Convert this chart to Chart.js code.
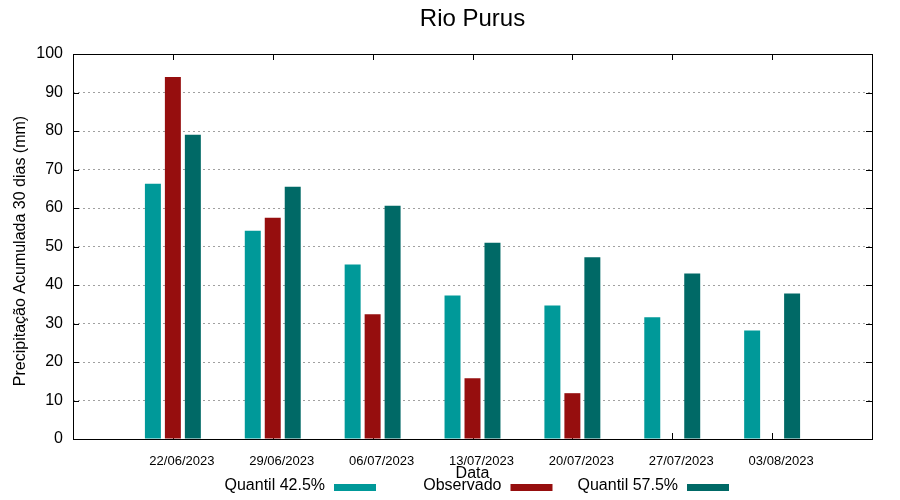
<!DOCTYPE html>
<html><head><meta charset="utf-8">
<script src="https://cdn.jsdelivr.net/npm/chart.js@4"></script>
<style>html,body{margin:0;padding:0;background:#fff}#wrap{width:900px;height:500px}</style>
</head><body><div id="wrap"><canvas id="c" width="900" height="500"></canvas></div>
<script>
const chartTitle = 'Rio Purus';
const xTitle = 'Data';
const yTitle = 'Precipitação Acumulada 30 dias (mm)';
const dates = ['22/06/2023','29/06/2023','06/07/2023','13/07/2023','20/07/2023','27/07/2023','03/08/2023'];
const q425 = [66.3, 54.1, 45.3, 37.3, 34.7, 31.6, 28.2];
const observado = [94.0, 57.5, 32.4, 15.8, 11.9, null, null];
const q575 = [79.0, 65.5, 60.6, 51.0, 47.2, 43.0, 37.8];
const yTicks = [0,10,20,30,40,50,60,70,80,90,100];
const seriesNames = ['Quantil 42.5%', 'Observado', 'Quantil 57.5%'];
const seriesColors = ['#009999', '#960e0e', '#006966'];

const FONT = "'Liberation Sans', Arial, sans-serif";
const toPts = arr => arr.map((v, i) => ({x: i + 1, y: v}));

const deco = {
  id: 'deco',
  beforeDatasetsDraw(chart) {
    const {ctx, chartArea: a, scales: {x, y}} = chart;
    ctx.save();
    ctx.strokeStyle = '#000'; ctx.lineWidth = 1;
    ctx.beginPath();
    yTicks.forEach(v => {
      const py = Math.round(y.getPixelForValue(v)) + 0.5;
      ctx.moveTo(a.left, py); ctx.lineTo(a.left + 6, py);
      ctx.moveTo(a.right, py); ctx.lineTo(a.right - 6, py);
    });
    dates.forEach((d, i) => {
      const px = Math.round(x.getPixelForValue(i + 1)) + 0.5;
      ctx.moveTo(px, a.top); ctx.lineTo(px, a.top + 6);
      ctx.moveTo(px, a.bottom); ctx.lineTo(px, a.bottom - 6);
    });
    ctx.stroke();
    ctx.restore();
  },
  afterDatasetsDraw(chart) {
    const {ctx, chartArea: a} = chart;
    ctx.save();
    ctx.strokeStyle = '#000'; ctx.lineWidth = 1;
    ctx.strokeRect(Math.round(a.left) + 0.5, Math.round(a.top) + 0.5,
      Math.round(a.right) - Math.round(a.left), Math.round(a.bottom) - Math.round(a.top));
    ctx.restore();
  },
  afterDraw(chart) {
    const {ctx, chartArea: a} = chart;
    ctx.save();
    ctx.fillStyle = '#000';
    ctx.font = '24px ' + FONT;
    ctx.textAlign = 'center'; ctx.textBaseline = 'middle';
    ctx.fillText(chartTitle, (a.left + a.right) / 2, 19);
    ctx.font = '16px ' + FONT;
    ctx.fillText(xTitle, (a.left + a.right) / 2, 474);
    ctx.save();
    ctx.translate(21, 251);
    ctx.rotate(-Math.PI / 2);
    ctx.fillText(yTitle, 0, 0);
    ctx.restore();
    ctx.textAlign = 'right';
    seriesNames.forEach((n, i) => {
      const xe = 325 + i * 176.5;
      ctx.fillStyle = '#000';
      ctx.fillText(n, xe, 486);
      ctx.fillStyle = seriesColors[i];
      ctx.fillRect(xe + 9, 484, 42, 7);
    });
    ctx.restore();
  }
};

new Chart(document.getElementById('c'), {
  type: 'bar',
  data: {
    datasets: [
      {label: seriesNames[0], data: toPts(q425), backgroundColor: seriesColors[0]},
      {label: seriesNames[1], data: toPts(observado), backgroundColor: seriesColors[1]},
      {label: seriesNames[2], data: toPts(q575), backgroundColor: seriesColors[2]}
    ]
  },
  options: {
    responsive: false,
    animation: false,
    events: [],
    barPercentage: 0.8,
    categoryPercentage: 0.6,
    layout: {padding: {top: 54, right: 28, bottom: 0, left: 0}},
    plugins: {legend: {display: false}, title: {display: false}, tooltip: {enabled: false}},
    scales: {
      x: {
        type: 'linear', min: 0, max: 8, offset: false,
        afterFit(s) { s.height = 61; },
        grid: {display: false, drawTicks: false, offset: false},
        border: {display: false},
        ticks: {
          stepSize: 1, autoSkip: false, maxRotation: 0, padding: 15, labelOffset: 9,
          color: '#000', font: {family: FONT, size: 13},
          callback: v => (v >= 1 && v <= dates.length) ? dates[v - 1] : ''
        }
      },
      y: {
        min: 0, max: 100,
        afterFit(s) { s.width = 73; },
        grid: {color: '#a0a0a0', lineWidth: 1, drawTicks: false},
        border: {display: false, dash: [2, 3]},
        ticks: {stepSize: 10, padding: 10, color: '#000', font: {family: FONT, size: 16}}
      }
    }
  },
  plugins: [deco]
});
</script>
</body></html>
